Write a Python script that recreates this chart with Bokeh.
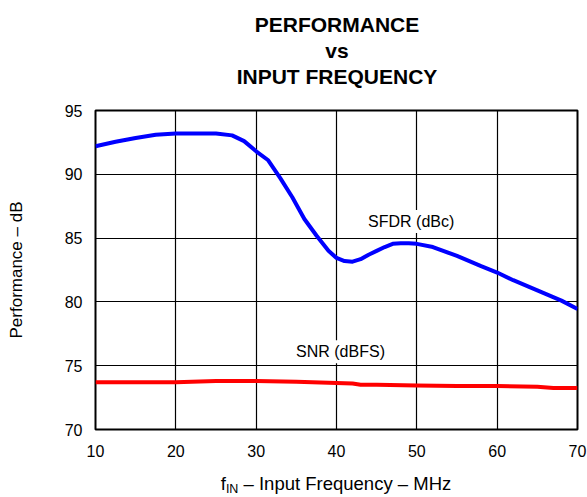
from bokeh.plotting import figure
from bokeh.models import Range1d, Label, FixedTicker, Div
from bokeh.layouts import column
from bokeh.embed import file_html
from bokeh.resources import INLINE

# ---- data ----
freq_sfdr = [10, 12.5, 15, 17.5, 20, 22.5, 25, 27, 28.5, 30, 31.5, 33, 34.5, 36, 37.5,
             39, 40, 41, 42, 43, 44, 45, 46, 47, 48, 49, 50, 52, 55, 58, 60, 62, 65, 68, 70]
sfdr_dbc = [92.2, 92.55, 92.85, 93.1, 93.2, 93.2, 93.2, 93.05, 92.6, 91.8, 91.1, 89.7, 88.2,
            86.5, 85.2, 84.0, 83.45, 83.2, 83.15, 83.35, 83.7, 84.0, 84.3, 84.55, 84.6, 84.6,
            84.55, 84.3, 83.6, 82.8, 82.3, 81.7, 80.9, 80.1, 79.45]

freq_snr = [10, 15, 20, 25, 30, 35, 40, 42, 43, 45, 50, 55, 60, 65, 67, 70]
snr_dbfs = [73.7, 73.7, 73.7, 73.8, 73.8, 73.75, 73.65, 73.6, 73.5, 73.5, 73.45, 73.4,
            73.4, 73.35, 73.25, 73.25]

x_ticks = [10, 20, 30, 40, 50, 60, 70]
y_ticks = [70, 75, 80, 85, 90, 95]

title_lines = ["PERFORMANCE", "vs", "INPUT FREQUENCY"]

FONT = "Liberation Sans"

# ---- title (HTML block above the figure) ----
title_tops = [14, 40, 66]
title_html = '<div style="position:relative;width:587px;height:92px;">'
for txt, top in zip(title_lines, title_tops):
    title_html += ('<span style="position:absolute;left:337px;top:%dpx;transform:translateX(-50%%);'
                   'white-space:nowrap;font-family:\'Liberation Sans\';font-weight:bold;'
                   'font-size:21px;line-height:21px;color:black;">%s</span>' % (top, txt))
title_html += '</div>'
title_div = Div(text=title_html, width=587, height=92, margin=0)

# ---- figure ----
p = figure(width=587, height=373, output_backend="svg", toolbar_location=None,
           x_range=Range1d(10, 70), y_range=Range1d(70, 95),
           min_border_left=95, min_border_right=10, min_border_top=18,
           min_border_bottom=36)
p.background_fill_color = "white"
p.border_fill_color = "white"
p.outline_line_color = "black"
p.outline_line_width = 2

p.xaxis.ticker = FixedTicker(ticks=x_ticks)
p.yaxis.ticker = FixedTicker(ticks=y_ticks)
for ax in (p.xaxis[0], p.yaxis[0]):
    ax.axis_line_color = None
    ax.major_tick_line_color = None
    ax.minor_tick_line_color = None
    ax.major_tick_in = 0
    ax.major_tick_out = 0
    ax.major_label_text_font = FONT
    ax.major_label_text_font_size = "16px"
    ax.major_label_text_color = "black"
    ax.axis_label_text_font = FONT
    ax.axis_label_text_font_style = "normal"
    ax.axis_label_text_font_size = "17px"
    ax.axis_label_text_color = "black"
p.xaxis.major_label_standoff = 15
p.yaxis.major_label_standoff = 13
p.yaxis.axis_label = "Performance – dB"
p.yaxis.axis_label_standoff = 36

p.xgrid.grid_line_color = "black"
p.ygrid.grid_line_color = "black"
p.xgrid.grid_line_width = 1.2
p.ygrid.grid_line_width = 1.2

p.line(freq_sfdr, sfdr_dbc, line_color="#0000FF", line_width=4, line_join="round")
p.line(freq_snr, snr_dbfs, line_color="#FF0000", line_width=4, line_join="round")

# curve labels
p.add_layout(Label(x=49.3, y=86.3, text="SFDR (dBc)", text_font=FONT, text_font_size="16px",
                   text_color="black", text_align="center", text_baseline="middle",
                   background_fill_color="white", padding=3))
p.add_layout(Label(x=40.5, y=76.1, text="SNR (dBFS)", text_font=FONT, text_font_size="16px",
                   text_color="black", text_align="center", text_baseline="middle",
                   background_fill_color="white", padding=3))

# ---- x-axis label with subscript (HTML block below the figure) ----
xlabel = Div(
    text=('<div style="position:relative;width:587px;height:32px;">'
          '<span style="position:absolute;left:336px;top:7px;transform:translateX(-50%);'
          'white-space:nowrap;font-family:\'Liberation Sans\';font-size:18.5px;line-height:24px;'
          'color:black;">f<span style="font-size:12.5px;position:relative;top:3px;">IN</span>'
          ' – Input Frequency – MHz</span></div>'),
    width=587, height=32, margin=0)

layout = column(title_div, p, xlabel, spacing=0)
open("out.html", "w").write(file_html(layout, INLINE))
